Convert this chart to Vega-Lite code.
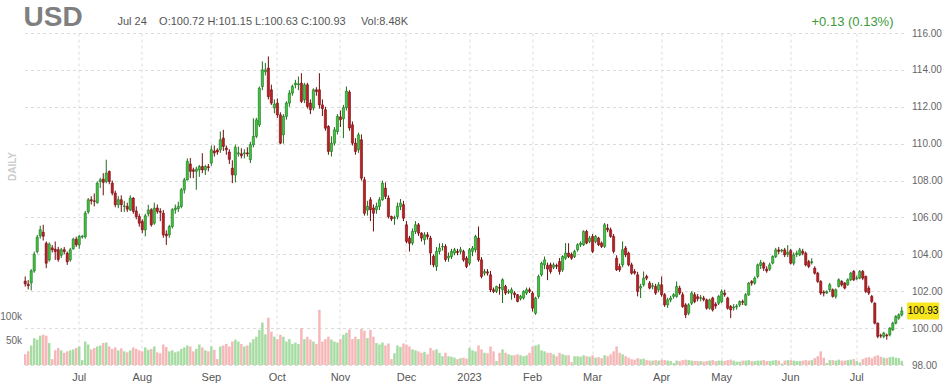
{
"$schema": "https://vega.github.io/schema/vega-lite/v6.json",
"width": 880,
"height": 332,
"autosize": {"type": "none"},
"padding": {"left": 23.5, "top": 33, "right": 44.5, "bottom": 22},
"background": "#ffffff",
"config": {"view": {"stroke": null}, "font": "Liberation Sans"},
"title": {"text": "USD", "anchor": "start", "frame": "group", "orient": "top", "baseline": "alphabetic", "fontSize": 28, "fontWeight": "bold", "color": "#7f7f7f", "font": "Liberation Sans", "offset": 0, "dy": 39},
"datasets": {"px": [
{"d":"2022-06-07","o":102.55,"h":102.8,"l":102.25,"c":102.4,"v":22},
{"d":"2022-06-08","o":102.38,"h":102.6,"l":102.1,"c":102.3,"v":28},
{"d":"2022-06-09","o":102.45,"h":103.2,"l":102.05,"c":103.1,"v":40},
{"d":"2022-06-10","o":103.1,"h":104.15,"l":103.0,"c":104.0,"v":55},
{"d":"2022-06-13","o":104.15,"h":105.05,"l":104.05,"c":104.93,"v":52},
{"d":"2022-06-14","o":105.0,"h":105.55,"l":104.85,"c":105.33,"v":60},
{"d":"2022-06-15","o":105.2,"h":105.6,"l":104.75,"c":104.98,"v":62},
{"d":"2022-06-16","o":104.6,"h":104.7,"l":103.25,"c":103.52,"v":60},
{"d":"2022-06-17","o":103.7,"h":104.65,"l":103.6,"c":104.55,"v":45},
{"d":"2022-06-20","o":104.35,"h":104.5,"l":104.1,"c":104.25,"v":12},
{"d":"2022-06-21","o":104.28,"h":104.7,"l":103.7,"c":104.15,"v":30},
{"d":"2022-06-22","o":104.25,"h":104.4,"l":103.6,"c":103.72,"v":35},
{"d":"2022-06-23","o":103.95,"h":104.35,"l":103.8,"c":104.25,"v":30},
{"d":"2022-06-24","o":104.25,"h":104.4,"l":104.0,"c":104.15,"v":25},
{"d":"2022-06-27","o":104.06,"h":104.15,"l":103.43,"c":103.6,"v":28},
{"d":"2022-06-28","o":103.7,"h":104.35,"l":103.6,"c":104.25,"v":30},
{"d":"2022-06-29","o":104.3,"h":104.9,"l":104.25,"c":104.82,"v":32},
{"d":"2022-06-30","o":104.82,"h":104.95,"l":104.4,"c":104.52,"v":35},
{"d":"2022-07-01","o":104.52,"h":105.05,"l":104.3,"c":104.97,"v":38},
{"d":"2022-07-04","o":104.95,"h":105.05,"l":104.85,"c":104.98,"v":10},
{"d":"2022-07-05","o":104.95,"h":106.35,"l":104.85,"c":106.23,"v":48},
{"d":"2022-07-06","o":106.3,"h":107.05,"l":106.2,"c":106.96,"v":42},
{"d":"2022-07-07","o":106.96,"h":107.15,"l":106.7,"c":106.9,"v":32},
{"d":"2022-07-08","o":106.9,"h":107.3,"l":106.6,"c":106.87,"v":35},
{"d":"2022-07-11","o":106.8,"h":107.95,"l":106.75,"c":107.86,"v":38},
{"d":"2022-07-12","o":107.95,"h":108.15,"l":107.6,"c":108.04,"v":40},
{"d":"2022-07-13","o":108.08,"h":108.4,"l":107.2,"c":107.9,"v":45},
{"d":"2022-07-14","o":107.95,"h":109.13,"l":107.85,"c":108.4,"v":46},
{"d":"2022-07-15","o":108.49,"h":108.55,"l":107.8,"c":107.95,"v":38},
{"d":"2022-07-18","o":107.86,"h":108.0,"l":107.2,"c":107.32,"v":33},
{"d":"2022-07-19","o":107.32,"h":107.45,"l":106.55,"c":106.69,"v":36},
{"d":"2022-07-20","o":106.69,"h":107.15,"l":106.5,"c":106.96,"v":30},
{"d":"2022-07-21","o":106.96,"h":107.2,"l":106.3,"c":106.69,"v":34},
{"d":"2022-07-22","o":106.6,"h":106.9,"l":106.3,"c":106.62,"v":28},
{"d":"2022-07-25","o":106.6,"h":106.8,"l":106.3,"c":106.45,"v":26},
{"d":"2022-07-26","o":106.41,"h":107.2,"l":106.35,"c":107.05,"v":30},
{"d":"2022-07-27","o":107.05,"h":107.1,"l":106.2,"c":106.33,"v":36},
{"d":"2022-07-28","o":106.35,"h":106.6,"l":105.9,"c":106.05,"v":33},
{"d":"2022-07-29","o":106.05,"h":106.2,"l":105.5,"c":105.69,"v":30},
{"d":"2022-08-01","o":105.78,"h":105.9,"l":105.15,"c":105.33,"v":28},
{"d":"2022-08-02","o":105.33,"h":106.2,"l":104.97,"c":106.09,"v":36},
{"d":"2022-08-03","o":106.2,"h":106.68,"l":106.05,"c":106.4,"v":31},
{"d":"2022-08-04","o":106.42,"h":106.5,"l":105.5,"c":105.6,"v":33},
{"d":"2022-08-05","o":105.69,"h":106.8,"l":105.6,"c":106.51,"v":38},
{"d":"2022-08-08","o":106.51,"h":106.7,"l":106.2,"c":106.33,"v":26},
{"d":"2022-08-09","o":106.33,"h":106.5,"l":105.8,"c":106.28,"v":24},
{"d":"2022-08-10","o":106.23,"h":106.4,"l":104.9,"c":105.06,"v":42},
{"d":"2022-08-11","o":105.1,"h":105.3,"l":104.51,"c":105.0,"v":37},
{"d":"2022-08-12","o":105.06,"h":105.6,"l":104.9,"c":105.51,"v":28},
{"d":"2022-08-15","o":105.51,"h":106.5,"l":105.4,"c":106.42,"v":30},
{"d":"2022-08-16","o":106.42,"h":106.7,"l":106.2,"c":106.51,"v":26},
{"d":"2022-08-17","o":106.48,"h":106.85,"l":106.3,"c":106.6,"v":28},
{"d":"2022-08-18","o":106.6,"h":107.6,"l":106.5,"c":107.5,"v":33},
{"d":"2022-08-19","o":107.5,"h":108.15,"l":107.3,"c":108.04,"v":36},
{"d":"2022-08-22","o":108.04,"h":109.2,"l":108.0,"c":109.04,"v":40},
{"d":"2022-08-23","o":108.9,"h":109.22,"l":108.13,"c":108.5,"v":38},
{"d":"2022-08-24","o":108.58,"h":108.7,"l":108.13,"c":108.5,"v":28},
{"d":"2022-08-25","o":108.5,"h":108.75,"l":107.5,"c":108.62,"v":33},
{"d":"2022-08-26","o":108.58,"h":108.85,"l":108.2,"c":108.76,"v":42},
{"d":"2022-08-29","o":108.76,"h":109.48,"l":108.4,"c":108.58,"v":36},
{"d":"2022-08-30","o":108.58,"h":108.85,"l":108.3,"c":108.76,"v":30},
{"d":"2022-08-31","o":108.75,"h":108.9,"l":108.5,"c":108.7,"v":28},
{"d":"2022-09-01","o":108.95,"h":109.9,"l":108.8,"c":109.67,"v":38},
{"d":"2022-09-02","o":109.6,"h":109.9,"l":109.3,"c":109.5,"v":31},
{"d":"2022-09-05","o":109.65,"h":109.75,"l":109.4,"c":109.55,"v":12},
{"d":"2022-09-06","o":109.67,"h":110.66,"l":109.5,"c":110.21,"v":38},
{"d":"2022-09-07","o":110.3,"h":110.75,"l":109.6,"c":109.85,"v":40},
{"d":"2022-09-08","o":109.76,"h":109.9,"l":109.4,"c":109.67,"v":43},
{"d":"2022-09-09","o":109.55,"h":109.7,"l":108.9,"c":109.15,"v":38},
{"d":"2022-09-12","o":108.67,"h":109.1,"l":107.86,"c":108.31,"v":48},
{"d":"2022-09-13","o":108.3,"h":109.95,"l":107.9,"c":109.8,"v":52},
{"d":"2022-09-14","o":109.45,"h":109.85,"l":109.3,"c":109.5,"v":48},
{"d":"2022-09-15","o":109.45,"h":109.75,"l":109.2,"c":109.35,"v":43},
{"d":"2022-09-16","o":109.45,"h":109.7,"l":109.2,"c":109.5,"v":38},
{"d":"2022-09-19","o":109.5,"h":109.8,"l":109.3,"c":109.45,"v":40},
{"d":"2022-09-20","o":109.13,"h":110.1,"l":108.95,"c":109.94,"v":46},
{"d":"2022-09-21","o":109.94,"h":111.38,"l":109.8,"c":110.39,"v":53},
{"d":"2022-09-22","o":110.4,"h":111.4,"l":110.3,"c":111.29,"v":58},
{"d":"2022-09-23","o":111.02,"h":113.1,"l":110.9,"c":113.01,"v":72},
{"d":"2022-09-26","o":113.1,"h":114.46,"l":112.9,"c":114.0,"v":87},
{"d":"2022-09-27","o":113.9,"h":114.37,"l":113.7,"c":114.0,"v":63},
{"d":"2022-09-28","o":114.1,"h":114.73,"l":112.4,"c":112.55,"v":97},
{"d":"2022-09-29","o":112.92,"h":113.2,"l":112.1,"c":112.2,"v":68},
{"d":"2022-09-30","o":111.95,"h":112.4,"l":111.65,"c":112.15,"v":58},
{"d":"2022-10-03","o":112.2,"h":112.45,"l":111.4,"c":111.56,"v":53},
{"d":"2022-10-04","o":111.56,"h":111.7,"l":109.97,"c":110.03,"v":62},
{"d":"2022-10-05","o":110.48,"h":111.6,"l":110.0,"c":111.48,"v":58},
{"d":"2022-10-06","o":111.48,"h":112.3,"l":111.3,"c":112.2,"v":48},
{"d":"2022-10-07","o":112.2,"h":112.9,"l":112.0,"c":112.74,"v":53},
{"d":"2022-10-10","o":112.74,"h":113.2,"l":112.6,"c":113.1,"v":43},
{"d":"2022-10-11","o":113.19,"h":113.46,"l":113.0,"c":113.28,"v":46},
{"d":"2022-10-12","o":113.2,"h":113.64,"l":112.9,"c":113.25,"v":43},
{"d":"2022-10-13","o":113.28,"h":113.82,"l":112.2,"c":112.29,"v":76},
{"d":"2022-10-14","o":112.38,"h":113.3,"l":112.2,"c":113.19,"v":53},
{"d":"2022-10-17","o":113.19,"h":113.3,"l":111.9,"c":112.02,"v":58},
{"d":"2022-10-18","o":112.2,"h":112.4,"l":111.6,"c":111.84,"v":52},
{"d":"2022-10-19","o":111.93,"h":113.0,"l":111.8,"c":112.92,"v":48},
{"d":"2022-10-20","o":112.92,"h":113.06,"l":112.6,"c":112.83,"v":43},
{"d":"2022-10-21","o":112.92,"h":113.82,"l":111.9,"c":112.11,"v":113},
{"d":"2022-10-24","o":112.1,"h":112.4,"l":111.5,"c":111.9,"v":48},
{"d":"2022-10-25","o":111.84,"h":112.0,"l":110.7,"c":110.84,"v":53},
{"d":"2022-10-26","o":110.93,"h":111.0,"l":109.4,"c":109.58,"v":58},
{"d":"2022-10-27","o":109.58,"h":110.4,"l":109.3,"c":110.03,"v":52},
{"d":"2022-10-28","o":110.03,"h":110.9,"l":109.9,"c":110.75,"v":48},
{"d":"2022-10-31","o":110.66,"h":111.6,"l":110.5,"c":111.48,"v":46},
{"d":"2022-11-01","o":111.45,"h":111.8,"l":110.9,"c":111.3,"v":53},
{"d":"2022-11-02","o":111.35,"h":112.1,"l":110.3,"c":111.95,"v":62},
{"d":"2022-11-03","o":111.95,"h":113.1,"l":111.8,"c":112.85,"v":66},
{"d":"2022-11-04","o":112.8,"h":112.9,"l":110.7,"c":110.85,"v":73},
{"d":"2022-11-07","o":111.02,"h":111.2,"l":109.9,"c":110.03,"v":53},
{"d":"2022-11-08","o":110.03,"h":110.3,"l":109.4,"c":109.58,"v":58},
{"d":"2022-11-09","o":109.67,"h":110.6,"l":109.5,"c":110.48,"v":53},
{"d":"2022-11-10","o":110.21,"h":110.5,"l":108.0,"c":108.13,"v":74},
{"d":"2022-11-11","o":108.04,"h":108.2,"l":106.1,"c":106.23,"v":70},
{"d":"2022-11-14","o":106.4,"h":106.9,"l":106.1,"c":106.6,"v":55},
{"d":"2022-11-15","o":106.96,"h":107.1,"l":105.8,"c":106.42,"v":72},
{"d":"2022-11-16","o":106.51,"h":106.7,"l":105.24,"c":106.23,"v":58},
{"d":"2022-11-17","o":106.42,"h":106.8,"l":106.2,"c":106.6,"v":45},
{"d":"2022-11-18","o":106.6,"h":107.1,"l":106.4,"c":106.96,"v":42},
{"d":"2022-11-21","o":106.96,"h":108.0,"l":106.9,"c":107.86,"v":46},
{"d":"2022-11-22","o":107.59,"h":107.9,"l":107.0,"c":107.14,"v":40},
{"d":"2022-11-23","o":107.05,"h":107.2,"l":105.95,"c":106.05,"v":44},
{"d":"2022-11-24","o":106.05,"h":106.1,"l":105.8,"c":105.92,"v":12},
{"d":"2022-11-25","o":105.95,"h":106.1,"l":105.6,"c":106.0,"v":24},
{"d":"2022-11-28","o":106.05,"h":106.8,"l":105.9,"c":106.6,"v":40},
{"d":"2022-11-29","o":106.6,"h":107.0,"l":106.4,"c":106.78,"v":37},
{"d":"2022-11-30","o":106.69,"h":106.9,"l":105.8,"c":105.96,"v":44},
{"d":"2022-12-01","o":105.6,"h":105.8,"l":104.6,"c":104.7,"v":42},
{"d":"2022-12-02","o":104.88,"h":105.0,"l":104.15,"c":104.6,"v":38},
{"d":"2022-12-05","o":104.61,"h":105.4,"l":104.5,"c":105.24,"v":32},
{"d":"2022-12-06","o":105.24,"h":105.8,"l":105.1,"c":105.6,"v":30},
{"d":"2022-12-07","o":105.6,"h":105.7,"l":105.0,"c":105.15,"v":28},
{"d":"2022-12-08","o":105.15,"h":105.2,"l":104.7,"c":104.88,"v":25},
{"d":"2022-12-09","o":104.79,"h":105.2,"l":104.52,"c":105.06,"v":27},
{"d":"2022-12-12","o":105.06,"h":105.2,"l":104.8,"c":104.95,"v":22},
{"d":"2022-12-13","o":104.88,"h":105.0,"l":103.43,"c":104.07,"v":35},
{"d":"2022-12-14","o":103.9,"h":104.0,"l":103.3,"c":103.43,"v":30},
{"d":"2022-12-15","o":103.34,"h":104.4,"l":103.1,"c":104.16,"v":32},
{"d":"2022-12-16","o":104.16,"h":104.6,"l":104.0,"c":104.34,"v":25},
{"d":"2022-12-19","o":104.4,"h":104.6,"l":104.2,"c":104.43,"v":18},
{"d":"2022-12-20","o":104.43,"h":104.55,"l":103.6,"c":103.72,"v":25},
{"d":"2022-12-21","o":103.8,"h":104.1,"l":103.6,"c":103.9,"v":18},
{"d":"2022-12-22","o":103.88,"h":104.3,"l":103.75,"c":104.16,"v":17},
{"d":"2022-12-23","o":104.07,"h":104.35,"l":103.95,"c":104.25,"v":15},
{"d":"2022-12-27","o":104.16,"h":104.3,"l":103.95,"c":104.1,"v":12},
{"d":"2022-12-28","o":104.16,"h":104.4,"l":104.0,"c":104.25,"v":14},
{"d":"2022-12-29","o":104.16,"h":104.25,"l":103.6,"c":103.7,"v":15},
{"d":"2022-12-30","o":103.79,"h":103.9,"l":103.25,"c":103.34,"v":13},
{"d":"2023-01-03","o":103.52,"h":104.35,"l":103.4,"c":104.25,"v":35},
{"d":"2023-01-04","o":104.16,"h":104.45,"l":103.9,"c":104.34,"v":30},
{"d":"2023-01-05","o":104.25,"h":105.06,"l":104.1,"c":104.97,"v":28},
{"d":"2023-01-06","o":104.88,"h":105.51,"l":103.6,"c":103.7,"v":40},
{"d":"2023-01-09","o":103.7,"h":103.85,"l":102.7,"c":102.8,"v":32},
{"d":"2023-01-10","o":102.98,"h":103.2,"l":102.85,"c":103.07,"v":25},
{"d":"2023-01-11","o":103.05,"h":103.2,"l":102.85,"c":102.98,"v":24},
{"d":"2023-01-12","o":102.89,"h":103.1,"l":101.95,"c":102.08,"v":38},
{"d":"2023-01-13","o":102.08,"h":102.2,"l":101.9,"c":101.99,"v":28},
{"d":"2023-01-16","o":101.99,"h":102.3,"l":101.9,"c":102.26,"v":8},
{"d":"2023-01-17","o":102.2,"h":102.4,"l":101.81,"c":102.17,"v":25},
{"d":"2023-01-18","o":102.08,"h":102.7,"l":101.36,"c":102.62,"v":32},
{"d":"2023-01-19","o":102.26,"h":102.35,"l":101.8,"c":101.9,"v":25},
{"d":"2023-01-20","o":101.95,"h":102.1,"l":101.85,"c":101.99,"v":22},
{"d":"2023-01-23","o":101.9,"h":102.2,"l":101.54,"c":102.08,"v":20},
{"d":"2023-01-24","o":101.9,"h":102.0,"l":101.63,"c":101.81,"v":20},
{"d":"2023-01-25","o":101.81,"h":101.85,"l":101.4,"c":101.45,"v":22},
{"d":"2023-01-26","o":101.6,"h":101.8,"l":101.5,"c":101.72,"v":20},
{"d":"2023-01-27","o":101.63,"h":102.05,"l":101.55,"c":101.99,"v":18},
{"d":"2023-01-30","o":101.9,"h":102.2,"l":101.8,"c":102.08,"v":20},
{"d":"2023-01-31","o":102.08,"h":102.2,"l":101.9,"c":101.99,"v":25},
{"d":"2023-02-01","o":101.9,"h":102.0,"l":100.9,"c":101.08,"v":38},
{"d":"2023-02-02","o":100.81,"h":101.7,"l":100.72,"c":101.63,"v":40},
{"d":"2023-02-03","o":101.72,"h":102.9,"l":101.6,"c":102.8,"v":42},
{"d":"2023-02-06","o":102.89,"h":103.6,"l":102.8,"c":103.52,"v":30},
{"d":"2023-02-07","o":103.43,"h":103.88,"l":103.2,"c":103.7,"v":28},
{"d":"2023-02-08","o":103.4,"h":103.55,"l":102.6,"c":103.2,"v":25},
{"d":"2023-02-09","o":103.43,"h":103.55,"l":102.95,"c":103.07,"v":25},
{"d":"2023-02-10","o":103.3,"h":103.55,"l":103.2,"c":103.43,"v":22},
{"d":"2023-02-13","o":103.4,"h":103.5,"l":103.2,"c":103.35,"v":18},
{"d":"2023-02-14","o":103.61,"h":103.8,"l":102.9,"c":103.07,"v":25},
{"d":"2023-02-15","o":103.16,"h":103.95,"l":103.05,"c":103.88,"v":22},
{"d":"2023-02-16","o":103.79,"h":104.61,"l":103.7,"c":104.07,"v":20},
{"d":"2023-02-17","o":104.07,"h":104.6,"l":103.8,"c":103.88,"v":20},
{"d":"2023-02-20","o":104.0,"h":104.1,"l":103.7,"c":103.79,"v":6},
{"d":"2023-02-21","o":103.88,"h":104.25,"l":103.8,"c":104.16,"v":18},
{"d":"2023-02-22","o":104.25,"h":104.6,"l":104.15,"c":104.52,"v":18},
{"d":"2023-02-23","o":104.52,"h":104.7,"l":104.4,"c":104.61,"v":17},
{"d":"2023-02-24","o":104.52,"h":105.3,"l":104.45,"c":105.24,"v":20},
{"d":"2023-02-27","o":105.24,"h":105.33,"l":104.55,"c":104.61,"v":18},
{"d":"2023-02-28","o":104.7,"h":105.0,"l":104.6,"c":104.88,"v":17},
{"d":"2023-03-01","o":104.97,"h":105.1,"l":104.07,"c":104.16,"v":20},
{"d":"2023-03-02","o":104.7,"h":105.05,"l":104.6,"c":104.97,"v":15},
{"d":"2023-03-03","o":104.88,"h":104.95,"l":104.45,"c":104.52,"v":16},
{"d":"2023-03-06","o":104.61,"h":104.7,"l":104.34,"c":104.43,"v":14},
{"d":"2023-03-07","o":104.43,"h":105.7,"l":104.35,"c":105.6,"v":20},
{"d":"2023-03-08","o":105.42,"h":105.65,"l":105.2,"c":105.33,"v":18},
{"d":"2023-03-09","o":105.33,"h":105.45,"l":104.9,"c":104.97,"v":22},
{"d":"2023-03-10","o":104.97,"h":105.1,"l":104.05,"c":104.16,"v":28},
{"d":"2023-03-13","o":103.79,"h":103.95,"l":103.1,"c":103.16,"v":38},
{"d":"2023-03-14","o":103.34,"h":103.5,"l":103.05,"c":103.16,"v":25},
{"d":"2023-03-15","o":103.43,"h":104.7,"l":103.3,"c":104.25,"v":22},
{"d":"2023-03-16","o":104.34,"h":104.45,"l":103.85,"c":103.97,"v":18},
{"d":"2023-03-17","o":104.07,"h":104.15,"l":103.35,"c":103.43,"v":15},
{"d":"2023-03-20","o":103.43,"h":103.55,"l":102.9,"c":102.98,"v":12},
{"d":"2023-03-21","o":103.07,"h":103.2,"l":102.9,"c":102.98,"v":11},
{"d":"2023-03-22","o":102.89,"h":103.05,"l":101.72,"c":101.99,"v":14},
{"d":"2023-03-23","o":102.17,"h":102.4,"l":101.63,"c":102.26,"v":12},
{"d":"2023-03-24","o":102.35,"h":103.07,"l":102.25,"c":102.71,"v":13},
{"d":"2023-03-27","o":102.8,"h":102.9,"l":102.6,"c":102.71,"v":10},
{"d":"2023-03-28","o":102.44,"h":102.55,"l":102.1,"c":102.17,"v":9},
{"d":"2023-03-29","o":102.26,"h":102.45,"l":102.1,"c":102.3,"v":9},
{"d":"2023-03-30","o":102.26,"h":102.4,"l":101.8,"c":101.9,"v":10},
{"d":"2023-03-31","o":102.08,"h":102.5,"l":101.95,"c":102.35,"v":9},
{"d":"2023-04-03","o":102.35,"h":102.8,"l":101.7,"c":101.81,"v":11},
{"d":"2023-04-04","o":101.81,"h":101.9,"l":101.15,"c":101.26,"v":10},
{"d":"2023-04-05","o":101.26,"h":101.65,"l":101.1,"c":101.53,"v":9},
{"d":"2023-04-06","o":101.53,"h":101.75,"l":101.4,"c":101.63,"v":8},
{"d":"2023-04-07","o":101.72,"h":101.9,"l":101.6,"c":101.81,"v":4},
{"d":"2023-04-10","o":101.72,"h":102.53,"l":101.65,"c":102.26,"v":9},
{"d":"2023-04-11","o":102.17,"h":102.3,"l":101.8,"c":101.9,"v":8},
{"d":"2023-04-12","o":101.81,"h":101.95,"l":101.1,"c":101.17,"v":10},
{"d":"2023-04-13","o":101.26,"h":101.35,"l":100.54,"c":100.72,"v":11},
{"d":"2023-04-14","o":100.81,"h":101.35,"l":100.7,"c":101.26,"v":10},
{"d":"2023-04-17","o":101.35,"h":102.0,"l":101.25,"c":101.9,"v":9},
{"d":"2023-04-18","o":101.81,"h":101.95,"l":101.35,"c":101.44,"v":8},
{"d":"2023-04-19","o":101.7,"h":101.85,"l":101.45,"c":101.6,"v":8},
{"d":"2023-04-20","o":101.62,"h":101.8,"l":101.45,"c":101.65,"v":8},
{"d":"2023-04-21","o":101.63,"h":101.75,"l":101.45,"c":101.55,"v":7},
{"d":"2023-04-24","o":101.53,"h":101.6,"l":101.0,"c":101.08,"v":8},
{"d":"2023-04-25","o":101.08,"h":101.6,"l":101.0,"c":101.53,"v":9},
{"d":"2023-04-26","o":101.63,"h":101.7,"l":100.9,"c":100.99,"v":10},
{"d":"2023-04-27","o":101.3,"h":101.4,"l":101.05,"c":101.2,"v":8},
{"d":"2023-04-28","o":101.35,"h":101.8,"l":101.25,"c":101.72,"v":9},
{"d":"2023-05-01","o":101.44,"h":102.1,"l":101.35,"c":101.99,"v":9},
{"d":"2023-05-02","o":101.9,"h":102.08,"l":101.7,"c":101.81,"v":8},
{"d":"2023-05-03","o":101.63,"h":101.7,"l":101.0,"c":101.08,"v":10},
{"d":"2023-05-04","o":101.17,"h":101.25,"l":100.54,"c":100.99,"v":11},
{"d":"2023-05-05","o":101.1,"h":101.3,"l":100.95,"c":101.15,"v":9},
{"d":"2023-05-08","o":101.15,"h":101.3,"l":101.0,"c":101.2,"v":7},
{"d":"2023-05-09","o":101.26,"h":101.5,"l":101.15,"c":101.44,"v":7},
{"d":"2023-05-10","o":101.44,"h":101.55,"l":101.25,"c":101.4,"v":9},
{"d":"2023-05-11","o":101.26,"h":101.9,"l":101.2,"c":101.81,"v":9},
{"d":"2023-05-12","o":101.81,"h":102.5,"l":101.75,"c":102.44,"v":10},
{"d":"2023-05-15","o":102.53,"h":102.6,"l":102.3,"c":102.44,"v":8},
{"d":"2023-05-16","o":102.44,"h":102.8,"l":102.35,"c":102.71,"v":8},
{"d":"2023-05-17","o":102.8,"h":103.5,"l":102.7,"c":103.43,"v":9},
{"d":"2023-05-18","o":103.4,"h":103.7,"l":103.2,"c":103.55,"v":9},
{"d":"2023-05-19","o":103.52,"h":103.6,"l":103.1,"c":103.25,"v":10},
{"d":"2023-05-22","o":103.2,"h":103.35,"l":103.0,"c":103.1,"v":8},
{"d":"2023-05-23","o":103.2,"h":103.55,"l":103.1,"c":103.43,"v":8},
{"d":"2023-05-24","o":103.52,"h":103.95,"l":103.45,"c":103.88,"v":9},
{"d":"2023-05-25","o":103.88,"h":104.35,"l":103.8,"c":104.24,"v":10},
{"d":"2023-05-26","o":104.24,"h":104.4,"l":104.0,"c":104.16,"v":9},
{"d":"2023-05-29","o":104.18,"h":104.3,"l":104.1,"c":104.22,"v":3},
{"d":"2023-05-30","o":104.24,"h":104.35,"l":103.85,"c":103.97,"v":9},
{"d":"2023-05-31","o":104.0,"h":104.5,"l":103.85,"c":104.1,"v":10},
{"d":"2023-06-01","o":104.2,"h":104.3,"l":103.45,"c":103.52,"v":10},
{"d":"2023-06-02","o":103.52,"h":104.1,"l":103.4,"c":103.97,"v":9},
{"d":"2023-06-05","o":104.0,"h":104.2,"l":103.85,"c":104.06,"v":8},
{"d":"2023-06-06","o":103.97,"h":104.35,"l":103.9,"c":104.24,"v":8},
{"d":"2023-06-07","o":104.16,"h":104.3,"l":103.95,"c":104.06,"v":9},
{"d":"2023-06-08","o":104.06,"h":104.15,"l":103.35,"c":103.43,"v":10},
{"d":"2023-06-09","o":103.6,"h":103.7,"l":103.25,"c":103.34,"v":9},
{"d":"2023-06-12","o":103.55,"h":103.79,"l":103.45,"c":103.6,"v":10},
{"d":"2023-06-13","o":103.25,"h":103.35,"l":102.9,"c":102.98,"v":14},
{"d":"2023-06-14","o":102.98,"h":103.05,"l":102.45,"c":102.53,"v":18},
{"d":"2023-06-15","o":102.53,"h":102.6,"l":101.8,"c":101.9,"v":28},
{"d":"2023-06-16","o":101.95,"h":102.05,"l":101.72,"c":101.9,"v":15},
{"d":"2023-06-19","o":101.9,"h":102.05,"l":101.85,"c":101.98,"v":4},
{"d":"2023-06-20","o":102.08,"h":102.45,"l":101.95,"c":102.35,"v":10},
{"d":"2023-06-21","o":102.08,"h":102.15,"l":101.65,"c":101.72,"v":10},
{"d":"2023-06-22","o":101.72,"h":102.15,"l":101.6,"c":102.08,"v":9},
{"d":"2023-06-23","o":102.26,"h":102.7,"l":102.2,"c":102.62,"v":11},
{"d":"2023-06-26","o":102.53,"h":102.6,"l":102.25,"c":102.35,"v":9},
{"d":"2023-06-27","o":102.44,"h":102.5,"l":102.1,"c":102.17,"v":9},
{"d":"2023-06-28","o":102.35,"h":102.7,"l":102.3,"c":102.62,"v":10},
{"d":"2023-06-29","o":102.62,"h":103.05,"l":102.55,"c":102.98,"v":11},
{"d":"2023-06-30","o":103.07,"h":103.15,"l":102.55,"c":102.62,"v":12},
{"d":"2023-07-03","o":102.7,"h":102.85,"l":102.6,"c":102.72,"v":8},
{"d":"2023-07-04","o":102.71,"h":103.15,"l":102.65,"c":103.07,"v":5},
{"d":"2023-07-05","o":103.07,"h":103.15,"l":102.6,"c":102.71,"v":12},
{"d":"2023-07-06","o":102.8,"h":102.85,"l":101.9,"c":101.99,"v":15},
{"d":"2023-07-07","o":102.17,"h":102.3,"l":101.8,"c":101.9,"v":16},
{"d":"2023-07-10","o":101.72,"h":101.8,"l":101.35,"c":101.44,"v":14},
{"d":"2023-07-11","o":101.35,"h":101.4,"l":100.2,"c":100.27,"v":18},
{"d":"2023-07-12","o":100.27,"h":100.3,"l":99.45,"c":99.55,"v":20},
{"d":"2023-07-13","o":99.6,"h":99.7,"l":99.46,"c":99.57,"v":17},
{"d":"2023-07-14","o":99.55,"h":99.8,"l":99.45,"c":99.73,"v":15},
{"d":"2023-07-17","o":99.62,"h":99.7,"l":99.37,"c":99.58,"v":14},
{"d":"2023-07-18","o":99.64,"h":100.05,"l":99.55,"c":100.0,"v":16},
{"d":"2023-07-19","o":99.91,"h":100.35,"l":99.85,"c":100.27,"v":17},
{"d":"2023-07-20","o":100.27,"h":100.7,"l":100.2,"c":100.63,"v":15},
{"d":"2023-07-21","o":100.54,"h":100.8,"l":100.45,"c":100.72,"v":14},
{"d":"2023-07-24","o":100.72,"h":101.15,"l":100.63,"c":100.93,"v":8.48}
]},
"data": {"name": "px"},
"encoding": {
  "x": {"field": "d", "type": "ordinal", "scale": {"paddingInner": 0, "paddingOuter": 0.07},
    "axis": {"values": ["2022-07-01","2022-08-01","2022-09-01","2022-10-03","2022-11-01","2022-12-01","2023-01-03","2023-02-01","2023-03-01","2023-04-03","2023-05-01","2023-06-01","2023-07-03"],
      "labelExpr": "slice(datum.value, 5, 7) == '01' ? slice(datum.value, 0, 4) : utcFormat(toDate(datum.value), '%b')",
      "labelAngle": 0, "labelFontSize": 11, "labelColor": "#555555", "labelPadding": 6, "labelFont": "Liberation Sans",
      "grid": true, "gridColor": "#dcdcdc", "gridDash": [3, 3], "domain": false, "ticks": false,
      "title": "Jul 24\u00a0\u00a0\u00a0\u00a0O:100.72 H:101.15 L:100.63 C:100.93\u00a0\u00a0\u00a0\u00a0\u00a0Vol:8.48K",
      "titleX": 93.5, "titleY": -341, "titleAlign": "left", "titleAnchor": "start", "titleBaseline": "alphabetic",
      "titleFontSize": 11, "titleFontWeight": "normal", "titleColor": "#555555", "titleFont": "Liberation Sans"}}
},
"layer": [
  {"mark": {"type": "bar", "width": {"band": 0.82}},
   "encoding": {
     "y": {"field": "v", "type": "quantitative", "scale": {"domain": [0, 680]},
       "axis": {"orient": "left", "values": [50, 100], "labelExpr": "datum.value + 'k'", "grid": false, "domain": false, "ticks": false,
         "labelPadding": 2, "labelFontSize": 10, "labelColor": "#666666", "labelFont": "Liberation Sans",
         "title": "DAILY", "titleAngle": 270, "titleX": -11, "titleY": 133, "titleAlign": "center", "titleBaseline": "middle",
         "titleFontSize": 10, "titleFontWeight": "bold", "titleColor": "#cccccc", "titleFont": "Liberation Sans"}},
     "color": {"condition": {"test": "datum.c >= datum.o", "value": "#a6dca2"}, "value": "#f5b7b7"}
   }},
  {"encoding": {
     "y": {"field": "l", "type": "quantitative", "scale": {"domain": [98, 116], "zero": false},
       "axis": {"orient": "right", "values": [98,100,102,104,106,108,110,112,114,116], "format": ".2f",
         "grid": true, "gridColor": "#dcdcdc", "gridDash": [3, 3], "domain": false, "ticks": false,
         "labelPadding": 8, "labelFontSize": 10, "labelColor": "#666666", "labelFont": "Liberation Sans",
         "title": "+0.13 (0.13%)", "titleAngle": 0, "titleX": -10.5, "titleY": -8, "titleAlign": "right", "titleBaseline": "alphabetic",
         "titleFontSize": 13, "titleFontWeight": "normal", "titleColor": "#3a9a3a", "titleFont": "Liberation Sans"}}
   },
   "layer": [
    {"mark": {"type": "rule", "strokeWidth": 1},
     "encoding": {
       "y2": {"field": "h"},
       "color": {"condition": {"test": "datum.c >= datum.o", "value": "#1d6e1d"}, "value": "#6e0d10"}
     }},
    {"mark": {"type": "bar", "width": {"band": 0.72}, "strokeWidth": 0.6},
     "encoding": {
       "y": {"field": "o", "type": "quantitative"},
       "y2": {"field": "c"},
       "fill": {"condition": {"test": "datum.c >= datum.o", "value": "#3ec83e"}, "value": "#c21d23"},
       "stroke": {"condition": {"test": "datum.c >= datum.o", "value": "#1d6e1d"}, "value": "#6e0d10"}
     }},
    {"transform": [{"filter": "datum.d == '2023-07-24'"}],
     "mark": {"type": "point", "shape": "M0.28,-0.45L1.963,-0.45L1.963,0.45L0.28,0.45Z", "size": 1444, "filled": true, "fill": "#f7e61e", "strokeWidth": 0, "opacity": 1},
     "encoding": {"y": {"field": "c", "type": "quantitative"}}},
    {"transform": [{"filter": "datum.d == '2023-07-24'"}],
     "mark": {"type": "text", "align": "left", "baseline": "middle", "dx": 6, "fontSize": 10, "font": "Liberation Sans", "color": "#000000"},
     "encoding": {"y": {"field": "c", "type": "quantitative"},
       "text": {"field": "c", "type": "quantitative", "format": ".2f"}}}
  ]}
],
"resolve": {"scale": {"y": "independent"}}
}
